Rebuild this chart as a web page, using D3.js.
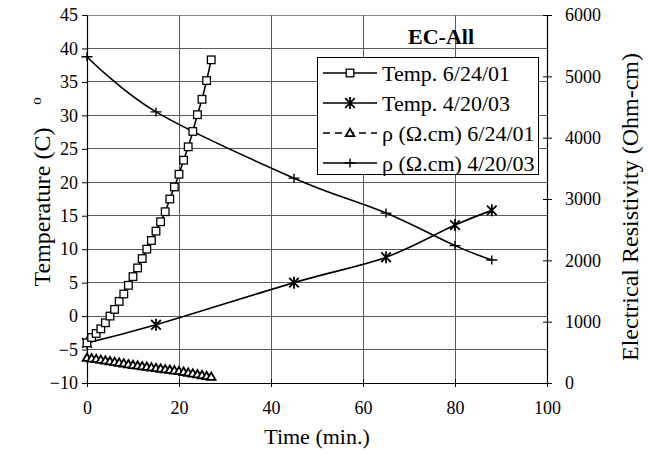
<!DOCTYPE html>
<html><head><meta charset="utf-8">
<script src="https://cdn.jsdelivr.net/npm/d3@7"></script>
<style>
html,body{margin:0;padding:0;background:#fff;}
svg{display:block;font-family:"Liberation Serif","Times New Roman",serif;}
</style></head>
<body>
<svg id="c" width="649" height="454"></svg>
<script>
// ---- data ----
const time01 = [0,1,2,3,4,5,6,7,8,9,10,11,12,13,14,15,16,17,18,19,20,21,22,23,24,25,26,27];
const temp01 = [-4.0,-3.2,-2.6,-1.9,-1.0,0.0,1.0,2.2,3.3,4.6,5.9,7.2,8.6,10.0,11.3,12.7,14.1,15.6,17.5,19.3,21.2,23.3,25.3,27.6,30.1,32.4,35.2,38.3];
const rho01 = [412,402,392,380,368,356,345,333,321,307,294,285,275,266,256,245,236,226,216,206,196,183,170,157,143,130,116,103];
const time03 = [0,15,45,65,80,88];
const temp03 = [-4.0,-1.3,5.0,8.8,13.6,15.8];
const rho03 = [5320,4420,3340,2770,2240,2005];
const tempTicks = [-10,-5,0,5,10,15,20,25,30,35,40,45];
const timeTicks = [0,20,40,60,80,100];
const rhoTicks = [0,1000,2000,3000,4000,5000,6000];
const legendLabels = ["Temp. 6/24/01","Temp. 4/20/03","ρ (Ω.cm) 6/24/01","ρ (Ω.cm) 4/20/03"];
const chartTitle = "EC-All";

// ---- layout ----
const svg = d3.select("#c");
const L=87, R=547, T=15, B=383;
const x = d3.scaleLinear().domain([0,100]).range([L,R]);
const yT = d3.scaleLinear().domain([-10,45]).range([B,T]);
const yR = d3.scaleLinear().domain([0,6000]).range([B,T]);
const FF = "Liberation Serif, Times New Roman, serif";

// gridlines
const grid = svg.append("g").attr("stroke","#5a5a5a").attr("stroke-width",1).attr("shape-rendering","crispEdges");
grid.selectAll("line.h").data(tempTicks.filter(d=>d>-10)).join("line")
  .attr("x1",L).attr("x2",R).attr("y1",d=>yT(d)).attr("y2",d=>yT(d)).attr("stroke",d=>d===45?"#888":"#5a5a5a");
grid.selectAll("line.v").data(timeTicks.filter(d=>d>0&&d<100)).join("line")
  .attr("x1",d=>x(d)).attr("x2",d=>x(d)).attr("y1",T).attr("y2",B);

// axes
function styleAxis(g){
  g.attr("font-family",FF);
  g.select(".domain").attr("stroke","#000").attr("stroke-width",1.2);
  g.selectAll(".tick line").attr("stroke","#000");
  g.selectAll(".tick text").attr("font-size",18).attr("fill","#000").attr("font-family",FF);
}
const gl = svg.append("g").attr("transform",`translate(${L},0)`)
  .call(d3.axisLeft(yT).tickValues(tempTicks).tickFormat(d3.format("d")).tickSize(5).tickSizeOuter(0).tickPadding(4));
styleAxis(gl);
const gb = svg.append("g").attr("transform",`translate(0,${B})`)
  .call(d3.axisBottom(x).tickValues(timeTicks).tickFormat(d3.format("d")).tickSize(4).tickSizeOuter(0).tickPadding(14));
styleAxis(gb);
gb.selectAll(".tick line").attr("y1",-4).attr("y2",4);
const gr = svg.append("g").attr("transform",`translate(${R},0)`)
  .call(d3.axisRight(yR).tickValues(rhoTicks).tickFormat(d3.format("d")).tickSize(5).tickSizeOuter(0).tickPadding(13));
styleAxis(gr);
gr.selectAll(".tick line").attr("x1",-4).attr("x2",5);

// axis titles
svg.append("text").attr("x",(L+R)/2).attr("y",444).attr("text-anchor","middle")
  .attr("font-size",22).text("Time (min.)");
svg.append("text").attr("transform","translate(50,207) rotate(-90)").attr("text-anchor","middle")
  .attr("font-size",24).text("Temperature (C)");
svg.append("text").attr("transform","translate(41,101) rotate(-90)").attr("text-anchor","middle")
  .attr("font-size",15).text("o");
svg.append("text").attr("transform","translate(638,207) rotate(-90)").attr("text-anchor","middle")
  .attr("font-size",24).text("Electrical Resistivity (Ohm-cm)");

// title
svg.append("text").attr("x",441).attr("y",44).attr("text-anchor","middle")
  .attr("font-size",22).attr("font-weight","bold").text(chartTitle);

// ---- series ----
const curve = d3.curveCatmullRom.alpha(0);
function drawLine(xs, ys, yScale, dash){
  const line = d3.line().x((d,i)=>x(xs[i])).y(d=>yScale(d)).curve(curve);
  svg.append("path").attr("d",line(ys)).attr("fill","none").attr("stroke","#000")
    .attr("stroke-width",1.6).attr("stroke-dasharray",dash||null);
}
const markers = {
  square: (g)=>g.append("rect").attr("x",-3.8).attr("y",-3.8).attr("width",7.6).attr("height",7.6)
              .attr("fill","#fff").attr("stroke","#000").attr("stroke-width",1.3),
  triangle: (g)=>g.append("path").attr("d","M0,-4.2L4.3,3.2L-4.3,3.2Z")
              .attr("fill","#fff").attr("stroke","#000").attr("stroke-width",1.8),
  star: (g)=>g.append("path").attr("d","M-4.8,-4.8L4.8,4.8M-4.8,4.8L4.8,-4.8M0,-6L0,6")
              .attr("fill","none").attr("stroke","#000").attr("stroke-width",1.8),
  plus: (g)=>g.append("path").attr("d","M-5.5,0L5.5,0M0,-4.5L0,4.5")
              .attr("fill","none").attr("stroke","#000").attr("stroke-width",1.4)
};
function drawMarkers(xs, ys, yScale, type){
  const g = svg.append("g");
  g.selectAll("g").data(ys).join("g")
    .attr("transform",(d,i)=>`translate(${x(xs[i])},${yScale(d)})`)
    .each(function(){ markers[type](d3.select(this)); });
}
drawLine(time03, rho03, yR);
drawMarkers(time03, rho03, yR, "plus");
drawLine(time03, temp03, yT);
drawMarkers(time03, temp03, yT, "star");
drawLine(time01, rho01, yR, "6,4");
drawMarkers(time01, rho01, yR, "triangle");
drawLine(time01, temp01, yT);
drawMarkers(time01, temp01, yT, "square");

// ---- legend ----
const lg = svg.append("g");
lg.append("rect").attr("x",317.5).attr("y",57.5).attr("width",221).attr("height",117)
  .attr("fill","#fff").attr("stroke","#000").attr("stroke-width",1);
const legTypes = ["square","star","triangle","plus"];
legendLabels.forEach((lab,i)=>{
  const yy = 73 + i*30;
  const row = lg.append("g").attr("transform",`translate(0,${yy})`);
  row.append("line").attr("x1",323).attr("x2",377).attr("y1",0).attr("y2",0)
    .attr("stroke","#000").attr("stroke-width",1.6).attr("stroke-dasharray",i===2?"7,5":null);
  const mg = row.append("g").attr("transform","translate(350,0)");
  markers[legTypes[i]](mg);
  row.append("text").attr("x",382).attr("y",8).attr("font-size",22).text(lab);
});
</script>
</body></html>
